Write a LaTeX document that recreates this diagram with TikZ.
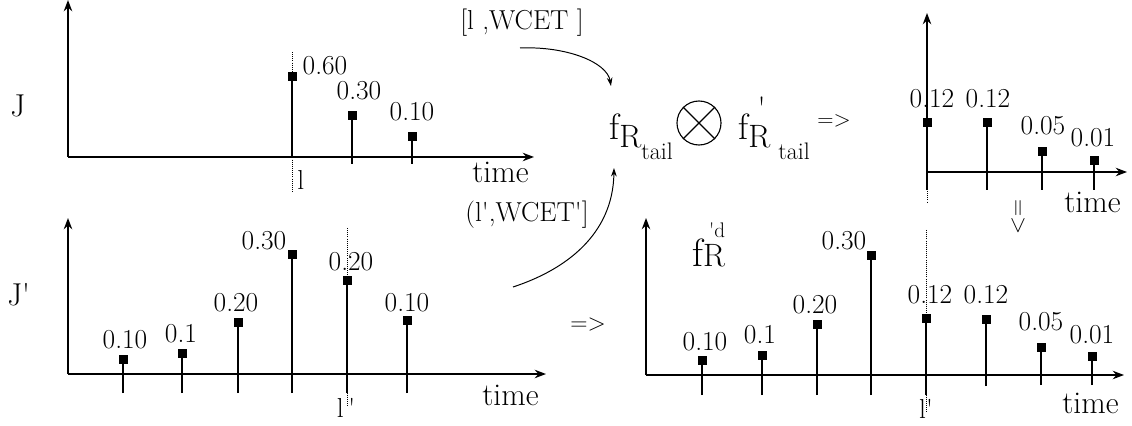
\documentclass[tikz,border=0pt]{standalone}
\usetikzlibrary{arrows.meta}
\newcommand\numfont{\fontsize{19.5}{21}\selectfont}
\newcommand\timefont{\fontsize{22.5}{24}\selectfont}
\newcommand\fbig{\fontsize{26}{28}\selectfont}
\newcommand\rsub{\fontsize{23}{25}\selectfont}
\newcommand\tsub{\fontsize{17}{19}\selectfont}
\newcommand\dsup{\fontsize{15}{17}\selectfont}
\newcommand\q{\textquotesingle}

\begin{document}
\begin{tikzpicture}[x=0.025cm,y=-0.025cm,
  axis/.style={line width=1.6pt,-{Stealth[length=8pt,width=6pt]}},
  stem/.style={line width=1.4pt},
  guide/.style={densely dotted,line width=0.5pt},
  num/.style={font=\numfont,inner sep=0pt,anchor=base},
  lbl/.style={font=\timefont,inner sep=0pt,anchor=base west},
  curvearrow/.style={line width=0.7pt,-{Stealth[length=6pt,width=4pt]}}]
\useasboundingbox (0,0) rectangle (1132,426);

% J
\node[lbl] (jname) at (10,117) {J};
\draw[guide] (292,52) -- (292,193);
\draw[axis] (68,157) -- (68,0);
\draw[axis] (68,157) -- (534,157);
\foreach \x/\t/\b/\v/\lx/\ly [count=\i] in {292/77/157/0.60/325/75, 352/116/164/0.30/359/100, 412/137/164/0.10/412/121}{
  \draw[stem] (\x,\b) -- (\x,\t);
  \fill (\x-4.5,\t-4.5) rectangle (\x+4.5,\t+4.5);
  \node[num] (ja\i) at (\lx,\ly) {\v};
}
\node[num,anchor=base west] (jl) at (297,190) {l};
\node[lbl] (jtime) at (472,183) {time};

% J'
\node[lbl] (jpname) at (7,306) {J\q};
\draw[guide] (347,228) -- (347,406);
\draw[axis] (68,374) -- (68,218);
\draw[axis] (68,374) -- (546,374);
\foreach \x/\t/\v/\lx/\ly [count=\i] in {123/359/0.10/125/348, 182/353/0.1/181/342, 238/322/0.20/236/311, 292/255/0.30/264/249, 347/280/0.20/351/270, 407/320/0.10/407/311}{
  \draw[stem] (\x,393) -- (\x,\t);
  \fill (\x-4.5,\t-4.5) rectangle (\x+4.5,\t+4.5);
  \node[num] (jb\i) at (\lx,\ly) {\v};
}
\node[num] (jpl) at (346,417) {l\,\q};
\node[lbl] (jptime) at (482,405) {time};

% convolution
\node[num] (win) at (522,30) {[l ,WCET ]};
\node[num] (winp) at (527,222) {(l\q,WCET\q]};
\node[anchor=base west,inner sep=0pt] (fra) at (609,140)
  {\fbig f\raisebox{-5pt}{\rsub R}\raisebox{-14pt}{\tsub tail}};
\node[draw,circle,line width=0.8pt,inner sep=0pt,minimum size=1.1cm] (ot) at (699,123) {};
\draw[line width=0.8pt] (ot.north west) -- (ot.south east);
\draw[line width=0.8pt] (ot.north east) -- (ot.south west);
\node[anchor=base west,inner sep=0pt] (frb) at (738,140)
  {\fbig f\raisebox{-5pt}{\rsub R}\kern-9pt\raisebox{14.5pt}{\rsub\q}\kern9pt\raisebox{-14pt}{\tsub tail}};
\node[font=\fontsize{16}{18}\selectfont,inner sep=0pt] (imp1) at (834,121) {=>};
\coordinate (ta) at (520,48);
\coordinate (tb) at (611,86);
\draw[curvearrow] (ta) .. controls (566,46) and (607,62) .. (tb);
\coordinate (ba) at (513,287);
\coordinate (bb) at (614,168);
\draw[curvearrow] (ba) .. controls (565,270) and (613,235) .. (bb);

% tail result
\draw[guide] (927,172) -- (927,203);
\draw[axis] (927,172) -- (927,13);
\draw[axis] (927,172) -- (1127,172);
\foreach \x/\t/\v/\lx/\ly [count=\i] in {927/123/0.12/932/108, 987/123/0.12/988/108, 1042/152/0.05/1043/135, 1094/161/0.01/1093/147}{
  \draw[stem] (\x,190) -- (\x,\t);
  \fill (\x-4.5,\t-4.5) rectangle (\x+4.5,\t+4.5);
  \node[num] (ta\i) at (\lx,\ly) {\v};
}
\node[lbl] (ttime) at (1064,213) {time};
\node[font=\fontsize{17}{19}\selectfont,inner sep=0pt,rotate=-90] (imp2) at (1018,217) {=>};

% f'd
\node[font=\fontsize{17}{19}\selectfont,inner sep=0pt] (imp3) at (588,325) {=>};
\node[anchor=base west,inner sep=0pt] (fd) at (692,266)
  {\fontsize{28}{30}\selectfont f{\rsub R}\kern-11.4pt\raisebox{20pt}{\dsup\q d}};
\draw[guide] (926,230) -- (926,413);
\draw[line width=1.1pt,-{Stealth[length=8pt,width=6pt]}] (646,375) -- (646,218);
\draw[axis] (646,375) -- (1124,375);
\foreach \x/\t/\b/\v/\lx/\ly [count=\i] in {702/360/395/0.10/705/350, 762/355/395/0.1/760/343, 817/324/395/0.20/815/313, 871/256/395/0.30/844/250, 926/318/395/0.12/930/303, 986/319/386/0.12/986/303, 1041/347/385/0.05/1041/330, 1092/356/385/0.01/1092/343}{
  \draw[stem] (\x,\b) -- (\x,\t);
  \fill (\x-4.5,\t-4.5) rectangle (\x+4.5,\t+4.5);
  \node[num] (fb\i) at (\lx,\ly) {\v};
}
\node[num] (fl) at (926,418) {l\q};
\node[lbl] (ftime) at (1062,413) {time};
\end{tikzpicture}
\end{document}
